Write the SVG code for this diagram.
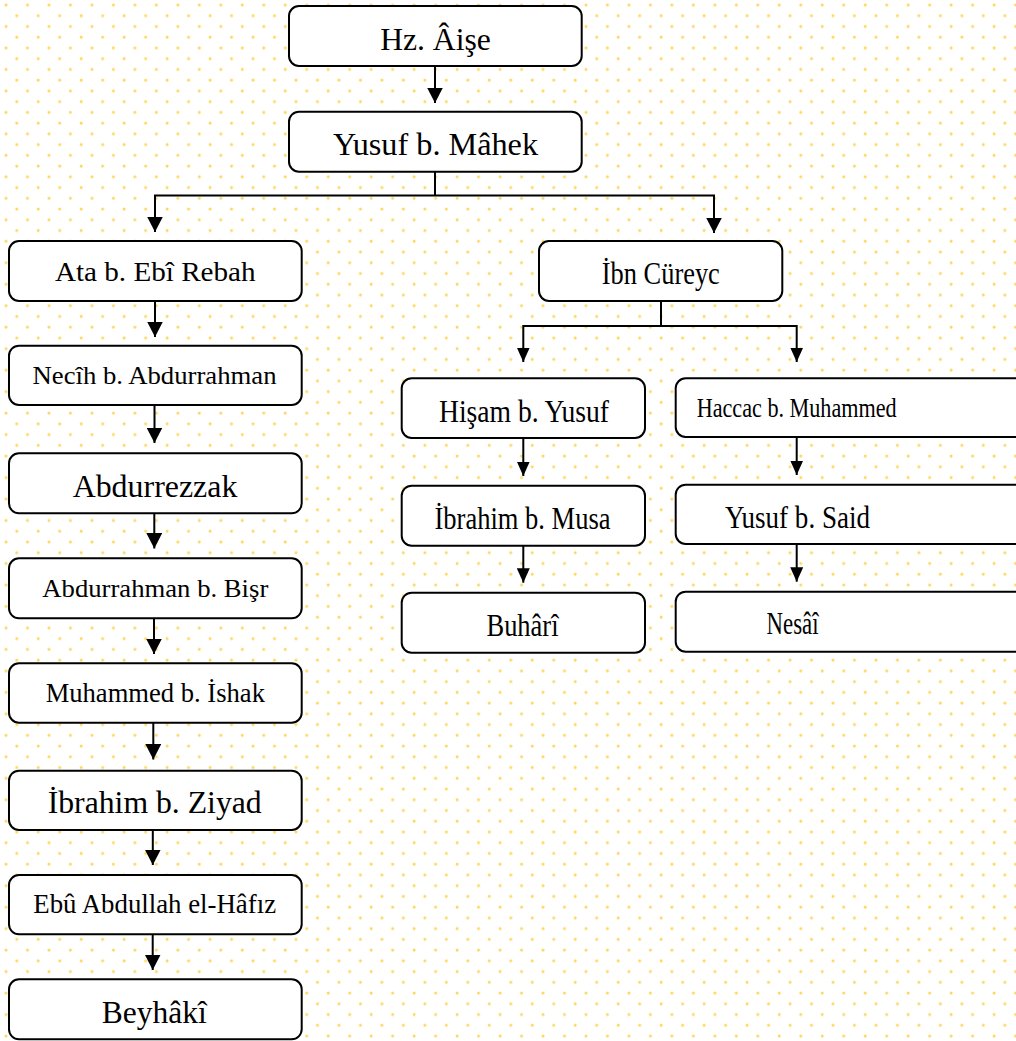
<svg xmlns="http://www.w3.org/2000/svg" width="1016" height="1041" viewBox="0 0 1016 1041">
<defs>
<pattern id="dots" patternUnits="userSpaceOnUse" x="0" y="0" width="21.48" height="21.48">
<circle cx="6" cy="5" r="1.5" fill="#FFD24D" fill-opacity="0.9"/>
<circle cx="16.74" cy="15.74" r="1.5" fill="#FFD24D" fill-opacity="0.9"/>
</pattern>
<marker id="arr" markerUnits="userSpaceOnUse" markerWidth="16" markerHeight="16" refX="15.5" refY="8" orient="auto" viewBox="0 0 16 16">
<path d="M0,0 L15.5,8 L0,16 Z" fill="#000"/>
</marker>
<marker id="arrN" markerUnits="userSpaceOnUse" markerWidth="15" markerHeight="13" refX="14.5" refY="6.5" orient="auto" viewBox="0 0 15 13">
<path d="M0,0 L14.5,6.5 L0,13 Z" fill="#000"/>
</marker>
</defs>
<style>
.box{fill:#fff;stroke:#000;stroke-width:2}
.t{font-family:"Liberation Serif","Times New Roman",serif;fill:#000;text-anchor:middle}
.lg{font-size:31.5px}
.md{font-size:27px}
.sm{font-size:25.5px}
.c{fill:none;stroke:#000;stroke-width:2}
.a{marker-end:url(#arr)}
.an{marker-end:url(#arrN)}
</style>
<rect x="0" y="0" width="1016" height="1041" fill="#fff"/>
<rect x="0" y="0" width="1016" height="1041" fill="url(#dots)"/>

<g id="connectors">
<path class="c a" d="M435,66 V103"/>
<path class="c" d="M435,172 V195.5"/>
<path class="c a" d="M435,195.5 H155 V232"/>
<path class="c a" d="M435,195.5 H714 V233"/>
<path class="c a" d="M155,301 V337"/>
<path class="c a" d="M154.5,405 V443"/>
<path class="c a" d="M154.3,513.3 V548.5"/>
<path class="c a" d="M154,618.3 V654"/>
<path class="c a" d="M153.3,722.7 V759.5"/>
<path class="c a" d="M152.8,830 V865"/>
<path class="c a" d="M152.7,934.3 V970"/>
<path class="c" d="M661,301 V326"/>
<path class="c an" d="M661,326 H523.3 V362"/>
<path class="c an" d="M661,326 H796.7 V362"/>
<path class="c an" d="M523.3,438 V476"/>
<path class="c an" d="M796.7,437 V475"/>
<path class="c an" d="M523.3,545.7 V582.7"/>
<path class="c an" d="M796.7,544 V581.7"/>
</g>

<g id="n-aise"><rect class="box" x="289" y="6" width="292.7" height="60" rx="10"/><text class="t lg" x="435.5" y="50" textLength="110.7" lengthAdjust="spacingAndGlyphs">Hz. Âişe</text></g>
<g id="n-mahek"><rect class="box" x="289" y="111.7" width="292.7" height="60" rx="10"/><text class="t lg" x="435.5" y="155" textLength="205" lengthAdjust="spacingAndGlyphs">Yusuf b. Mâhek</text></g>

<g id="n-ata"><rect class="box" x="9" y="241" width="292.7" height="60" rx="10"/><text class="t md" x="155.3" y="281" textLength="200.7" lengthAdjust="spacingAndGlyphs">Ata b. Ebî Rebah</text></g>
<g id="n-necih"><rect class="box" x="9" y="345.7" width="292.7" height="59.3" rx="10"/><text class="t sm" x="154.5" y="384" textLength="244" lengthAdjust="spacingAndGlyphs">Necîh b. Abdurrahman</text></g>
<g id="n-abdurrezzak"><rect class="box" x="9" y="453.3" width="292.7" height="60" rx="10"/><text class="t lg" x="155" y="496.7" textLength="164.7" lengthAdjust="spacingAndGlyphs">Abdurrezzak</text></g>
<g id="n-bisr"><rect class="box" x="9" y="558.3" width="292.7" height="60" rx="10"/><text class="t sm" x="155.3" y="596.7" textLength="226" lengthAdjust="spacingAndGlyphs">Abdurrahman b. Bişr</text></g>
<g id="n-ishak"><rect class="box" x="9" y="663.3" width="292.7" height="59.4" rx="10"/><text class="t md" x="155.3" y="701.7" textLength="219.3" lengthAdjust="spacingAndGlyphs">Muhammed b. İshak</text></g>
<g id="n-ziyad"><rect class="box" x="9" y="770.7" width="292.7" height="59.3" rx="10"/><text class="t lg" x="154.7" y="813.3" textLength="214" lengthAdjust="spacingAndGlyphs">İbrahim b. Ziyad</text></g>
<g id="n-hafiz"><rect class="box" x="9" y="875" width="292.7" height="59.3" rx="10"/><text class="t md" x="154.7" y="912.7" textLength="242.7" lengthAdjust="spacingAndGlyphs">Ebû Abdullah el-Hâfız</text></g>
<g id="n-beyhaki"><rect class="box" x="9" y="979.3" width="292.7" height="60" rx="10"/><text class="t lg" x="154.2" y="1022.7" textLength="105" lengthAdjust="spacingAndGlyphs">Beyhâkî</text></g>

<g id="n-cureyc"><rect class="box" x="539" y="241" width="243.3" height="60" rx="10"/><text class="t lg" x="660.8" y="284.3" textLength="118" lengthAdjust="spacingAndGlyphs">İbn Cüreyc</text></g>
<g id="n-hisam"><rect class="box" x="401.7" y="378.3" width="243.3" height="59.7" rx="10"/><text class="t lg" x="524" y="421.7" textLength="170" lengthAdjust="spacingAndGlyphs">Hişam b. Yusuf</text></g>
<g id="n-haccac"><rect class="box" x="675.7" y="378.3" width="400" height="58.7" rx="10"/><text class="t md" x="796.7" y="416.7" textLength="200" lengthAdjust="spacingAndGlyphs">Haccac b. Muhammed</text></g>
<g id="n-musa"><rect class="box" x="401.7" y="485.7" width="243.3" height="60" rx="10"/><text class="t lg" x="522.5" y="529.3" textLength="176" lengthAdjust="spacingAndGlyphs">İbrahim b. Musa</text></g>
<g id="n-said"><rect class="box" x="675.7" y="484.7" width="400" height="59.3" rx="10"/><text class="t lg" x="797.5" y="528.3" textLength="145" lengthAdjust="spacingAndGlyphs">Yusuf b. Said</text></g>
<g id="n-buhari"><rect class="box" x="401.7" y="592.7" width="243.3" height="60" rx="10"/><text class="t lg" x="522.5" y="635.7" textLength="72" lengthAdjust="spacingAndGlyphs">Buhârî</text></g>
<g id="n-nesai"><rect class="box" x="675.7" y="591.7" width="400" height="60" rx="10"/><text class="t lg" x="792.5" y="634.3" textLength="52" lengthAdjust="spacingAndGlyphs">Nesâî</text></g>
</svg>
